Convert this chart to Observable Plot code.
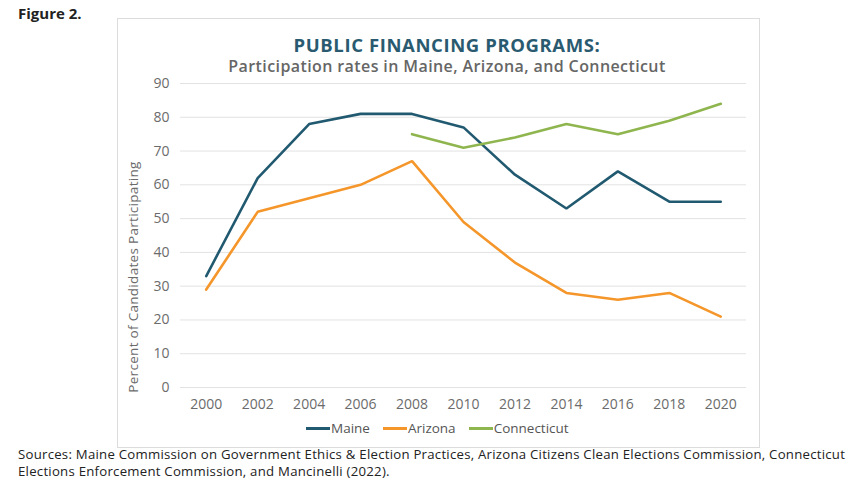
<!DOCTYPE html>
<html>
<head>
<meta charset="utf-8">
<script src="https://cdn.jsdelivr.net/npm/d3@7"></script>
<script src="https://cdn.jsdelivr.net/npm/@observablehq/plot@0.6"></script>
<style>
  html, body { margin:0; padding:0; background:#fff; width:865px; height:490px; overflow:hidden; }
  body { position:relative; font-family:"Open Sans", sans-serif; }
  .abs { position:absolute; }
  #fig { left:18px; top:3px; font-weight:700; font-size:15px; color:#222; }
  #box { left:117px; top:18px; width:641px; height:428px; border:1px solid #dcdcdc; }
  #title { left:117px; width:660px; top:32px; text-align:center; font-weight:700; font-size:18.5px; color:#2a5a70; letter-spacing:0.6px; }
  #subtitle { left:117px; width:660px; top:55px; text-align:center; font-weight:600; font-size:16px; color:#666; letter-spacing:0.4px; }
  #ylab { left:133px; top:277px; transform:translate(-50%,-50%) rotate(-90deg); white-space:nowrap; font-size:13.5px; color:#6b6b6b; letter-spacing:0.3px; }
  #chart { left:117px; top:70px; }
  #legend { left:306px; top:419px; display:flex; align-items:center; font-size:13.5px; color:#555; }
  .item { display:flex; align-items:center; margin-right:13px; }
  .sw { width:24px; height:3px; margin-right:1px; }
  #sources { left:18px; top:446px; font-size:13.2px; line-height:17px; color:#222; white-space:nowrap; letter-spacing:0.25px; }
</style>
</head>
<body>
<div id="fig" class="abs">Figure 2.</div>
<div id="box" class="abs"></div>
<div id="title" class="abs">PUBLIC FINANCING PROGRAMS:</div>
<div id="subtitle" class="abs">Participation rates in Maine, Arizona, and Connecticut</div>
<div id="ylab" class="abs">Percent of Candidates Participating</div>
<div id="chart" class="abs"></div>
<div id="legend" class="abs"></div>
<div id="sources" class="abs">Sources: Maine Commission on Government Ethics &amp; Election Practices, Arizona Citizens Clean Elections Commission, Connecticut<br>Elections Enforcement Commission, and Mancinelli (2022).</div>
<script>
const years = [2000, 2002, 2004, 2006, 2008, 2010, 2012, 2014, 2016, 2018, 2020];
const maine = [33, 62, 78, 81, 81, 77, 63, 53, 64, 55, 55];
const arizona = [29, 52, 56, 60, 67, 49, 37, 28, 26, 28, 21];
const connecticut = [null, null, null, null, 75, 71, 74, 78, 75, 79, 84];
const yTicks = [0, 10, 20, 30, 40, 50, 60, 70, 80, 90];
const states = ["Maine", "Arizona", "Connecticut"];
const colors = ["#215a70", "#f5962a", "#8fb54f"];

const series = [maine, arizona, connecticut];
const data = [];
states.forEach((s, i) => {
  years.forEach((yr, j) => {
    if (series[i][j] != null) data.push({state: s, year: yr, value: series[i][j]});
  });
});

const chart = Plot.plot({
  width: 642,
  height: 355,
  marginLeft: 63,
  marginRight: 13,
  marginTop: 13,
  marginBottom: 38,
  style: {fontFamily: "Open Sans", fontSize: "14px", color: "#6b6b6b", background: "transparent"},
  x: {domain: [1999, 2021]},
  y: {domain: [0, 90]},
  color: {domain: states, range: colors},
  marks: [
    Plot.gridY(yTicks, {stroke: "#e2e2e2", strokeOpacity: 1, strokeWidth: 1}),
    Plot.axisY(yTicks, {tickSize: 0, tickPadding: 11, label: null}),
    Plot.axisX(years, {tickSize: 0, tickPadding: 12, label: null, tickFormat: d => String(d)}),
    Plot.line(data, {x: "year", y: "value", z: "state", stroke: "state", strokeWidth: 2.6, strokeLinejoin: "miter"})
  ]
});
document.getElementById("chart").appendChild(chart);

const legend = document.getElementById("legend");
states.forEach((s, i) => {
  const it = document.createElement("div");
  it.className = "item";
  const sw = document.createElement("div");
  sw.className = "sw";
  sw.style.background = colors[i];
  const t = document.createElement("span");
  t.textContent = s;
  it.appendChild(sw);
  it.appendChild(t);
  legend.appendChild(it);
});
</script>
</body>
</html>
